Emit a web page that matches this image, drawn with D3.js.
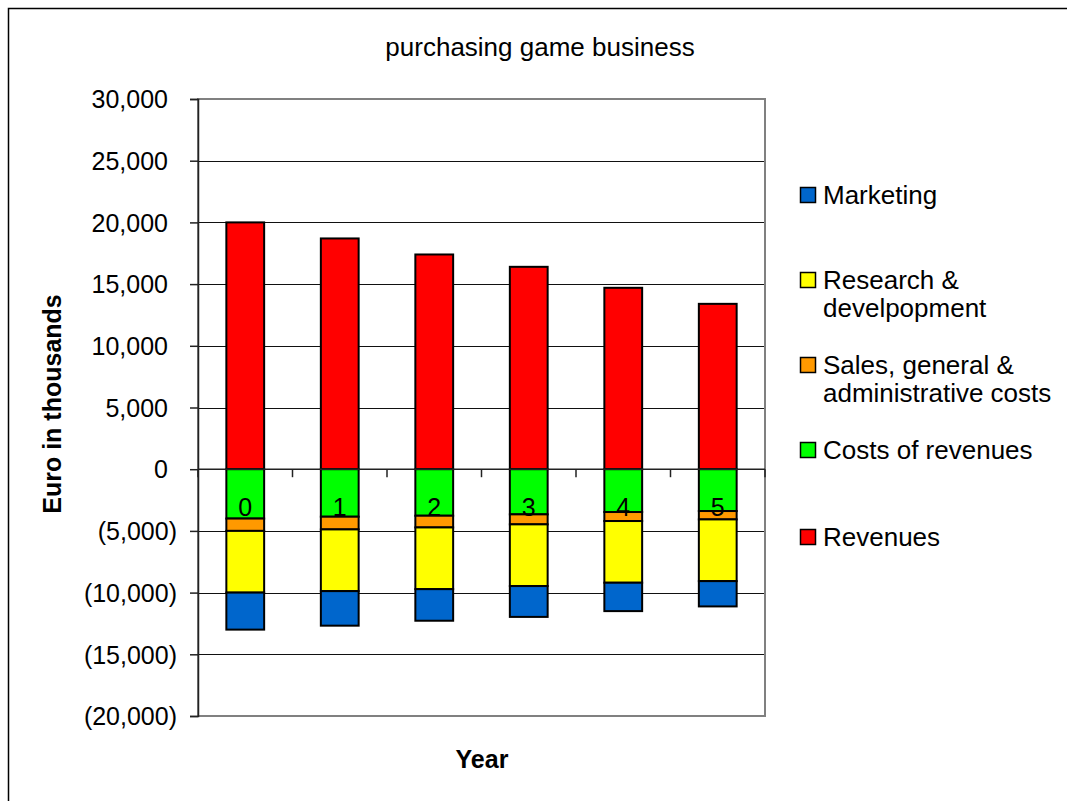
<!DOCTYPE html>
<html>
<head>
<meta charset="utf-8">
<script src="https://cdn.jsdelivr.net/npm/d3@7"></script>
<style>
  html, body { margin: 0; padding: 0; background: #fff; }
  svg { display: block; font-family: "Liberation Sans", Arial, sans-serif; }
</style>
</head>
<body>
<svg id="chart" width="1067" height="801"></svg>
<script>
// Yearly figures, euro in thousands (costs are negative)
const years = ["0", "1", "2", "3", "4", "5"];
const revenues = [20000, 18700, 17400, 16400, 14700, 13400];
const costsOfRevenues = [-4000, -3850, -3770, -3660, -3470, -3390];
const salesGeneralAdmin = [-1000, -1030, -950, -810, -730, -680];
const researchDevelopment = [-5000, -5000, -5000, -5000, -5000, -5000];
const marketing = [-3000, -2800, -2560, -2500, -2300, -2050];

const yTicks = [30000, 25000, 20000, 15000, 10000, 5000, 0, -5000, -10000, -15000, -20000];

const seriesKeys = ["revenues", "costsOfRevenues", "salesGeneralAdmin", "researchDevelopment", "marketing"];
const seriesNames = {
  marketing: "Marketing",
  researchDevelopment: "Research &\ndevelpopment",
  salesGeneralAdmin: "Sales, general &\nadministrative costs",
  costsOfRevenues: "Costs of revenues",
  revenues: "Revenues"
};
const seriesColors = {
  revenues: "#FF0000",
  costsOfRevenues: "#00FF00",
  salesGeneralAdmin: "#FF9900",
  researchDevelopment: "#FFFF00",
  marketing: "#0066CC"
};
const legendOrder = ["marketing", "researchDevelopment", "salesGeneralAdmin", "costsOfRevenues", "revenues"];

const rows = years.map((y, i) => ({
  year: y,
  revenues: revenues[i],
  costsOfRevenues: costsOfRevenues[i],
  salesGeneralAdmin: salesGeneralAdmin[i],
  researchDevelopment: researchDevelopment[i],
  marketing: marketing[i]
}));

const svg = d3.select("#chart");
const plot = { left: 198, right: 765, top: 99, bottom: 716 };
const font = 25;
const textFont = 26;

// outer chart frame
svg.append("rect")
  .attr("x", 8.5).attr("y", 8.5)
  .attr("width", 1080).attr("height", 820)
  .attr("fill", "#fff").attr("stroke", "#000").attr("stroke-width", 1.5);

const x = d3.scaleBand()
  .domain(years)
  .range([plot.left, plot.right])
  .paddingInner(0.6)
  .paddingOuter(0.3);

const y = d3.scaleLinear()
  .domain([-20000, 30000])
  .range([plot.bottom, plot.top]);

// gridlines
svg.append("g")
  .selectAll("line")
  .data(yTicks)
  .join("line")
  .attr("x1", plot.left).attr("x2", plot.right)
  .attr("y1", d => Math.round(y(d)) + 0.5).attr("y2", d => Math.round(y(d)) + 0.5)
  .attr("stroke", "#111").attr("stroke-width", 1);

// plot area border
svg.append("rect")
  .attr("x", plot.left).attr("y", plot.top)
  .attr("width", plot.right - plot.left).attr("height", plot.bottom - plot.top)
  .attr("fill", "none").attr("stroke", "#808080").attr("stroke-width", 2);

// stacked bars (revenues above zero, costs stacked below)
const stacked = d3.stack()
  .keys(seriesKeys)
  .offset(d3.stackOffsetDiverging)(rows);

svg.append("g")
  .selectAll("g")
  .data(stacked)
  .join("g")
  .attr("fill", d => seriesColors[d.key])
  .selectAll("rect")
  .data(d => d)
  .join("rect")
  .attr("x", d => x(d.data.year))
  .attr("width", x.bandwidth())
  .attr("y", d => y(Math.max(d[0], d[1])))
  .attr("height", d => Math.abs(y(d[0]) - y(d[1])))
  .attr("stroke", "#000")
  .attr("stroke-width", 2);

// y axis
const yAxis = svg.append("g")
  .attr("transform", `translate(${plot.left},0)`)
  .call(d3.axisLeft(y)
    .tickValues(yTicks)
    .tickSize(8)
    .tickPadding(21)
    .tickFormat(d => d < 0 ? `(${d3.format(",")(-d)})` : d3.format(",")(d)));
yAxis.select(".domain").attr("stroke", "#222").attr("stroke-width", 1.5);
yAxis.selectAll(".tick line").attr("stroke", "#222").attr("stroke-width", 1.5);
yAxis.selectAll(".tick text")
  .attr("font-size", font)
  .attr("fill", "#000")
  .attr("font-family", "'Liberation Sans', Arial, sans-serif")
  .attr("dy", "0.35em")
  .attr("x", d => d < 0 ? -21 : -30);

// category axis along the zero line
const zeroY = y(0);
svg.append("line")
  .attr("x1", plot.left).attr("x2", plot.right)
  .attr("y1", zeroY).attr("y2", zeroY)
  .attr("stroke", "#222").attr("stroke-width", 1.5);

const boundaries = d3.range(years.length + 1).map(i => plot.left + i * x.step());
svg.append("g")
  .selectAll("line")
  .data(boundaries)
  .join("line")
  .attr("x1", d => d).attr("x2", d => d)
  .attr("y1", zeroY).attr("y2", zeroY + 8)
  .attr("stroke", "#222").attr("stroke-width", 1.5);

svg.append("g")
  .selectAll("text")
  .data(years)
  .join("text")
  .attr("x", d => x(d) + x.bandwidth() / 2)
  .attr("y", zeroY + 47)
  .attr("text-anchor", "middle")
  .attr("font-size", font)
  .attr("fill", "#000")
  .text(d => d);

// title
svg.append("text")
  .attr("x", 540).attr("y", 56)
  .attr("text-anchor", "middle")
  .attr("font-size", textFont)
  .attr("fill", "#000")
  .text("purchasing game business");

// axis titles
svg.append("text")
  .attr("transform", `translate(61,404) rotate(-90)`)
  .attr("text-anchor", "middle")
  .attr("font-size", font)
  .attr("font-weight", "bold")
  .attr("fill", "#000")
  .text("Euro in thousands");

svg.append("text")
  .attr("x", 482).attr("y", 768)
  .attr("text-anchor", "middle")
  .attr("font-size", font)
  .attr("font-weight", "bold")
  .attr("fill", "#000")
  .text("Year");

// legend
const legendBaselines = [204, 289, 374, 459, 546];
const legend = svg.append("g")
  .selectAll("g")
  .data(legendOrder)
  .join("g")
  .attr("transform", (d, i) => `translate(800,${legendBaselines[i]})`);

legend.append("rect")
  .attr("x", 0.5).attr("y", -16.5)
  .attr("width", 15).attr("height", 15)
  .attr("fill", d => seriesColors[d])
  .attr("stroke", "#000").attr("stroke-width", 1.5);

legend.append("text")
  .attr("x", 23)
  .attr("font-size", textFont)
  .attr("fill", "#000")
  .selectAll("tspan")
  .data(d => seriesNames[d].split("\n"))
  .join("tspan")
  .attr("x", 23)
  .attr("dy", (d, i) => i === 0 ? 0 : 28)
  .text(d => d);
</script>
</body>
</html>
